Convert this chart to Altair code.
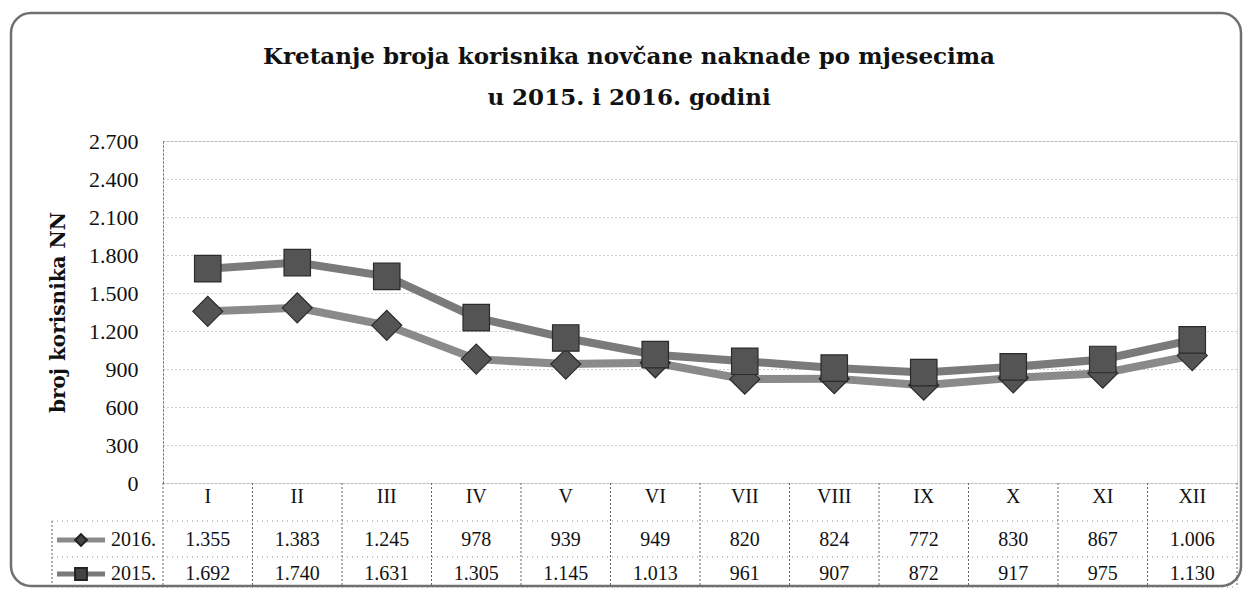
import altair as alt
import pandas as pd

# ---- data ----
months = ["I", "II", "III", "IV", "V", "VI", "VII", "VIII", "IX", "X", "XI", "XII"]
values_2016 = [1355, 1383, 1245, 978, 939, 949, 820, 824, 772, 830, 867, 1006]
values_2015 = [1692, 1740, 1631, 1305, 1145, 1013, 961, 907, 872, 917, 975, 1130]
series_names = ["2016.", "2015."]
y_ticks = [0, 300, 600, 900, 1200, 1500, 1800, 2100, 2400, 2700]
title_lines = ["Kretanje broja korisnika novčane naknade po mjesecima",
               "u 2015. i 2016. godini"]
y_title = "broj korisnika NN"

# ---- layout / style ----
W, H = 1074, 342
FONT = "Liberation Serif"
TFONT = "DejaVu Serif"
ROW1, ROW2, TBL_BOTTOM, ROW_SPLIT1, ROW_SPLIT2 = H + 57, H + 91, H + 104, H + 38, H + 74
LEFT_COL = -111

rows = []
for m, a, b in zip(months, values_2016, values_2015):
    rows.append({"mjesec": m, "serija": series_names[0], "broj": a})
    rows.append({"mjesec": m, "serija": series_names[1], "broj": b})
df = pd.DataFrame(rows)
df_months = pd.DataFrame({"mjesec": months})
one = alt.Data(values=[{"k": 1}])

fmt = "replace(format(datum.broj, ','), ',', '.')"

x_scale = alt.Scale(type="band", domain=months, paddingInner=0, paddingOuter=0)
y_scale = alt.Scale(domain=[0, 2700], nice=False)

x_axis = alt.Axis(title=None, labelFont=FONT, labelFontSize=20, labelColor="#111",
                  labelPadding=3, ticks=False, domain=False, labelAngle=0,
                  labelBaseline="top", grid=False)
y_axis = alt.Axis(title=y_title, values=y_ticks,
                  labelExpr="replace(format(datum.value, ','), ',', '.')",
                  labelFont=FONT, labelFontSize=22, labelColor="#111",
                  labelPadding=25, ticks=False, tickSize=0,
                  domain=True, domainColor="#666", domainDash=[2, 2], domainWidth=1,
                  grid=True, gridColor="#9a9a9a", gridDash=[1, 3], gridWidth=1,
                  titleFont=TFONT, titleFontSize=20, titleFontWeight="bold",
                  titleColor="#111", titlePadding=20)

X = alt.X("mjesec:N", scale=x_scale, sort=months, axis=x_axis)
Y = alt.Y("broj:Q", scale=y_scale, axis=y_axis)

base = alt.Chart(df)

def series_layers(name, shape, size, line_color):
    d = base.transform_filter(alt.datum.serija == name)
    line = d.mark_line(strokeWidth=8, color=line_color).encode(x=X, y=Y)
    pts = d.mark_point(shape=shape, size=size, filled=True, fill="#545454",
                       stroke="#2a2a2a", strokeWidth=1.2, opacity=1).encode(x=X, y=Y)
    return [line, pts]

layers = []
layers += series_layers(series_names[0], "diamond", 900, "#8a8a8a")
layers += series_layers(series_names[1], "square", 700, "#7a7a7a")

# table values
for name, ypos in [(series_names[0], ROW1), (series_names[1], ROW2)]:
    layers.append(
        base.transform_filter(alt.datum.serija == name)
        .transform_calculate(label=fmt)
        .mark_text(font=FONT, fontSize=20, baseline="middle", color="#111")
        .encode(x=X, y=alt.value(ypos), text="label:N")
    )

# table vertical separators at band starts
layers.append(
    alt.Chart(df_months).mark_rule(color="#666", strokeDash=[2, 2], strokeWidth=1)
    .encode(x=alt.X("mjesec:N", scale=x_scale, sort=months, axis=x_axis, bandPosition=0),
            y=alt.value(H), y2=alt.value(TBL_BOTTOM))
)
rule_style = dict(color="#666", strokeDash=[2, 2], strokeWidth=1)
layers.append(alt.Chart(one).mark_rule(**rule_style).encode(
    x=alt.value(W), y=alt.value(H), y2=alt.value(TBL_BOTTOM)))
layers.append(alt.Chart(one).mark_rule(**rule_style).encode(
    x=alt.value(LEFT_COL), y=alt.value(ROW_SPLIT1), y2=alt.value(TBL_BOTTOM)))
for yy in [ROW_SPLIT1, ROW_SPLIT2, TBL_BOTTOM]:
    layers.append(alt.Chart(one).mark_rule(color="#888", strokeDash=[1, 4], strokeWidth=1).encode(
        x=alt.value(LEFT_COL), x2=alt.value(W), y=alt.value(yy)))

# legend keys in the table's left column
for name, ypos, shape, col in [(series_names[0], ROW1, "diamond", "#8a8a8a"),
                                (series_names[1], ROW2, "square", "#7a7a7a")]:
    layers.append(alt.Chart(one).mark_rule(color=col, strokeWidth=5).encode(
        x=alt.value(-106), x2=alt.value(-58), y=alt.value(ypos)))
    layers.append(alt.Chart(one).mark_point(shape=shape, size=140, filled=True, fill="#444",
                                            stroke="#222", opacity=1).encode(
        x=alt.value(-82), y=alt.value(ypos)))
    layers.append(alt.Chart(one).mark_text(font=FONT, fontSize=20, align="right",
                                           baseline="middle", color="#111").encode(
        x=alt.value(-7), y=alt.value(ypos), text=alt.value(name)))

# title
for txt, yy in zip(title_lines, [-77, -36]):
    layers.append(alt.Chart(one).mark_text(font=TFONT, fontSize=23, fontWeight="bold",
                                           align="center", baseline="alphabetic",
                                           color="#111").encode(
        x=alt.value(466), y=alt.value(yy), text=alt.value(txt)))

# rounded frame
layers.append(alt.Chart(one).mark_rect(fill=None, stroke="#6f6f6f", strokeWidth=2.5,
                                       cornerRadius=20).encode(
    x=alt.value(-152), x2=alt.value(W + 4), y=alt.value(-128), y2=alt.value(H + 103)))

chart = alt.layer(*layers).properties(
    width=W, height=H,
    autosize=alt.AutoSizeParams(type="none"),
    padding={"left": 155, "top": 133, "right": 6, "bottom": 105},
).configure_view(stroke=None).configure(background="white")

chart.save("out.html", embed_options={"renderer": "svg", "actions": False})
